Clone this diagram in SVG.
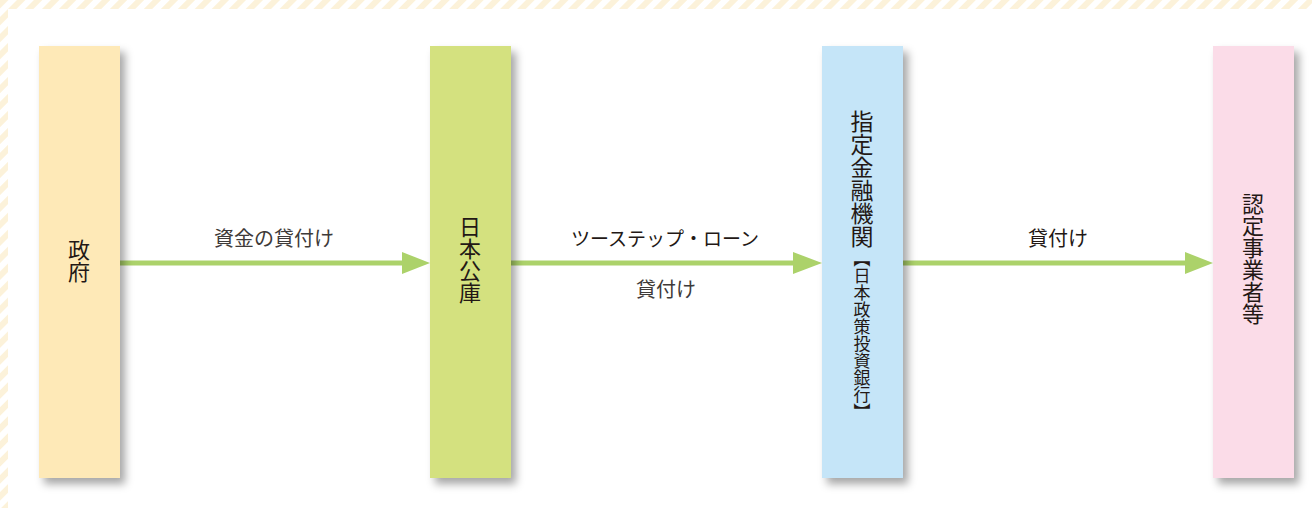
<svg xmlns="http://www.w3.org/2000/svg" width="1312" height="508" viewBox="0 0 1312 508">
  <defs>
    <pattern id="stripes" width="12" height="12" patternUnits="userSpaceOnUse" patternTransform="rotate(45)">
      <rect width="12" height="12" fill="#ffffff"/>
      <rect width="6" height="12" fill="#fcf2da"/>
    </pattern>
    <filter id="shadow" x="-30%" y="-10%" width="160%" height="120%">
      <feDropShadow dx="5" dy="6" stdDeviation="4" flood-color="#000" flood-opacity="0.35"/>
    </filter>
  </defs>
  <style>
    .box { filter: url(#shadow); }
    .vt { font-family: "Noto Sans CJK JP", sans-serif; font-size: 22px; fill: #231815; writing-mode: vertical-rl; text-anchor: start; }
    .vs { font-family: "Noto Sans CJK JP", sans-serif; font-size: 17px; fill: #231815; writing-mode: vertical-rl; text-anchor: start; }
    .lbl { font-family: "Noto Sans CJK JP", sans-serif; font-size: 20px; text-anchor: middle; }
    .conn { stroke: #acd26a; stroke-width: 5; fill: none; }
    .head { fill: #acd26a; }
  </style>

  <rect width="1312" height="508" fill="url(#stripes)"/>
  <rect x="8" y="9" width="1304" height="499" fill="#ffffff"/>

  <g id="connectors">
    <line class="conn" x1="120" y1="263" x2="406" y2="263"/>
    <path class="head" d="M402,252 L430,263 L402,274 Z"/>
    <line class="conn" x1="511" y1="263" x2="797" y2="263"/>
    <path class="head" d="M793,252 L822,263 L793,274 Z"/>
    <line class="conn" x1="903" y1="263" x2="1188" y2="263"/>
    <path class="head" d="M1185,252 L1213,263 L1185,274 Z"/>
    <text class="lbl" x="274" y="246" fill="#3e3a39">資金の貸付け</text>
    <text class="lbl" x="665" y="246" fill="#231815" style="font-size:19px">ツーステップ・ローン</text>
    <text class="lbl" x="666" y="297" fill="#3e3a39">貸付け</text>
    <text class="lbl" x="1058" y="246" fill="#231815">貸付け</text>
  </g>

  <g id="node-seifu">
    <rect class="box" x="39" y="46" width="81" height="432" fill="#fee9b7"/>
    <text class="vt" x="79" y="239">政府</text>
  </g>

  <g id="node-koko">
    <rect class="box" x="430" y="46" width="81" height="432" fill="#d4e17f"/>
    <text class="vt" x="470" y="216">日本公庫</text>
  </g>

  <g id="node-shitei">
    <rect class="box" x="822" y="46" width="81" height="432" fill="#c5e5f8"/>
    <text class="vt" x="862" y="110" style="font-size:23px">指定金融機関</text>
    <text class="vs" x="862" y="250">【日本政策投資銀行】</text>
  </g>

  <g id="node-nintei">
    <rect class="box" x="1213" y="46" width="81" height="432" fill="#fbdce8"/>
    <text class="vt" x="1253" y="193">認定事業者等</text>
  </g>
</svg>
